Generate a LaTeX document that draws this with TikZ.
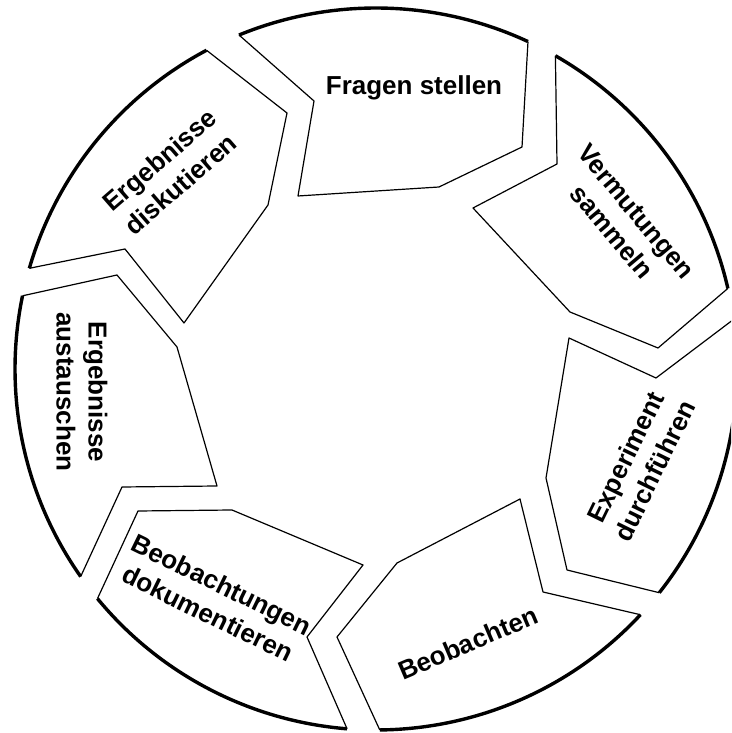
\documentclass[tikz,border=0pt]{standalone}
\usepackage{fontspec}
\setmainfont{Liberation Sans}
\usetikzlibrary{calc}

\begin{document}
\begin{tikzpicture}[x=1pt, y=1pt, line join=round,
	rim/.style={line width=3.4pt},
	side/.style={line width=1.2pt},
	txt/.style={font=\bfseries\fontsize{26}{32}\selectfont, align=center, inner sep=0pt}]
	\useasboundingbox (0,0) rectangle (731,733);
	\clip (0,0) rectangle (731,733);
	\coordinate (c) at (376,364);

	% Fragen stellen
	\draw[rim] (c) ++(112.3:361pt) arc[start angle=112.3, end angle=65.1, radius=361pt];
	\draw[side] ($(c)+(65.1:361pt)$) -- (522,586) -- (439,546) -- (298,537) -- (314,632) -- ($(c)+(112.3:361pt)$);
	% Vermutungen sammeln
	\draw[rim] (c) ++(60.2:361pt) arc[start angle=60.2, end angle=12.9, radius=361pt];
	\draw[side] ($(c)+(12.9:361pt)$) -- (658,385) -- (570,421) -- (473,525) -- (557,569) -- ($(c)+(60.2:361pt)$);
	% Experiment durchfuehren
	\draw[rim] (c) ++(7.9:361pt) arc[start angle=7.9, end angle=-38.3, radius=361pt];
	\draw[side] ($(c)+(-38.3:361pt)$) -- (567,163) -- (546,255) -- (569,395) -- (656,355) -- ($(c)+(7.9:361pt)$);
	% Beobachten
	\draw[rim] (c) ++(-42.9:361pt) arc[start angle=-42.9, end angle=-89.4, radius=361pt];
	\draw[side] ($(c)+(-89.4:361pt)$) -- (337,96) -- (397,170) -- (520,234) -- (543,141) -- ($(c)+(-42.9:361pt)$);
	% Beobachtungen dokumentieren
	\draw[rim] (c) ++(265.4:361pt) arc[start angle=265.4, end angle=219.5, radius=361pt];
	\draw[side] ($(c)+(219.5:361pt)$) -- (138,222) -- (232,223) -- (363,168) -- (307,96) -- ($(c)+(265.4:361pt)$);
	% Ergebnisse austauschen
	\draw[rim] (c) ++(215.1:361pt) arc[start angle=215.1, end angle=168.3, radius=361pt];
	\draw[side] ($(c)+(168.3:361pt)$) -- (117,458) -- (177,386) -- (217,247) -- (122,246) -- ($(c)+(215.1:361pt)$);
	% Ergebnisse diskutieren
	\draw[rim] (c) ++(163.8:361pt) arc[start angle=163.8, end angle=118, radius=361pt];
	\draw[side] ($(c)+(118:361pt)$) -- (287,620) -- (268,528) -- (184,410) -- (125,484) -- ($(c)+(163.8:361pt)$);

	\node[txt] (fragen) at (414,645) {Fragen stellen};
	\node[txt, rotate=-50] (vermutungen) at (624,511) {Vermutungen\\sammeln};
	\node[txt, rotate=64] (experiment) at (640,269) {Experiment\\durchführen};
	\node[txt, rotate=23] (beobachten) at (468,90) {Beobachten};
	\node[txt, rotate=-26] (dokumentieren) at (215,134) {Beobachtungen\\dokumentieren};
	\node[txt, rotate=-90] (austauschen) at (82,341) {Ergebnisse\\austauschen};
	\node[txt, rotate=41] (diskutieren) at (170,561) {Ergebnisse\\diskutieren};
\end{tikzpicture}
\end{document}
